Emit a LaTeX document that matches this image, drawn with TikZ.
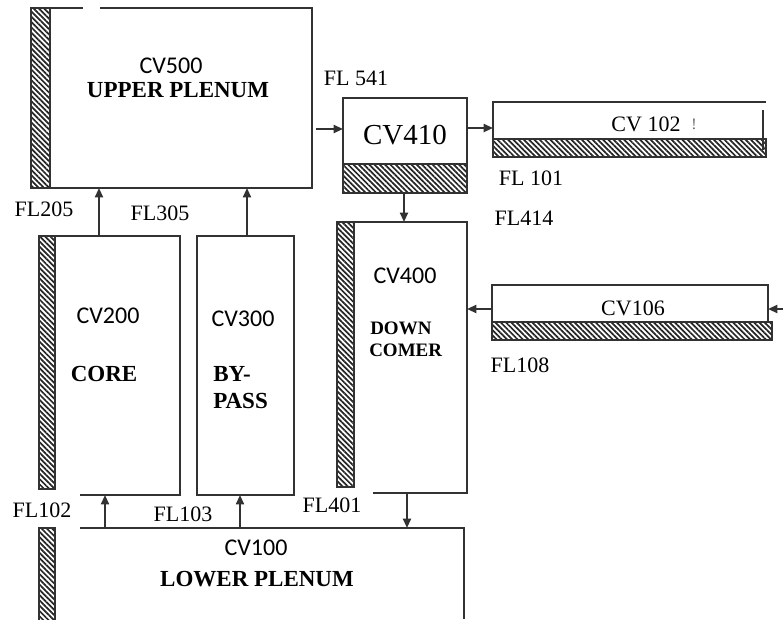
\documentclass[tikz,border=0pt]{standalone}
\usepackage{fontspec}
\setmainfont{Liberation Serif}
\newfontfamily\carl{Carlito}
\usetikzlibrary{arrows.meta,patterns.meta}
\definecolor{linec}{RGB}{50,50,50}
\begin{document}
\begin{tikzpicture}[x=0.75pt,y=-0.75pt,
  wall/.style={draw=linec, line width=1.4pt},
  hatch/.style={draw=linec, line width=1.2pt, pattern={Lines[angle=-45,distance=2.8pt,line width=1.3pt]}, pattern color=black!85},
  flow/.style={draw=linec, line width=1.4pt, -{Triangle[length=7pt,width=6pt]}},
  cvs/.style={font=\carl\fontsize{18}{20}\selectfont, inner sep=0pt},
  lab/.style={font=\fontsize{16.5}{18}\selectfont, inner sep=0pt},
  bold/.style={font=\bfseries\fontsize{17.25}{19}\selectfont, inner sep=0pt},
  boldsm/.style={font=\bfseries\fontsize{14.25}{16}\selectfont, inner sep=0pt},
]
\useasboundingbox (0,0) rectangle (783,619);

% upper plenum
\draw[wall] (50,8) rectangle (312,188);
\draw[hatch] (31,8) rectangle (50,188);
\draw[white, line width=2pt] (83,8) -- (100,8);

% core
\draw[wall] (80,495) -- (180,495) -- (180,236) -- (55,236);
\draw[hatch] (39,236) rectangle (55,489);

% bypass
\draw[wall] (197,236) rectangle (294,495);

% downcomer
\draw[wall] (373,493) -- (467,493) -- (467,222) -- (354,222);
\draw[hatch] (337,222) rectangle (354,487);

% lower plenum
\draw[wall] (80,528) -- (464,528) -- (464,619);
\draw[hatch] (39,528) rectangle (55,625);

% CV410
\draw[wall] (343,98) rectangle (467,164);
\draw[hatch] (343,164) rectangle (467,193);

% CV102
\draw[wall] (493,139) -- (493,102) -- (766,102);
\draw[hatch] (493,139) rectangle (766,157);
\draw[linec, line width=1pt] (763,110) -- (763,150);

% CV106
\draw[wall] (492,285) rectangle (768,322);
\draw[hatch] (492,322) rectangle (772,340);

% connector end points
\coordinate (coreT) at (99,236);
\coordinate (upB1) at (99,188);
\coordinate (bypT) at (247,236);
\coordinate (upB2) at (247,188);
\coordinate (upR) at (316,129);
\coordinate (c410L) at (343,129);
\coordinate (c410R) at (468,128);
\coordinate (c102L) at (493,128);
\coordinate (c410B) at (404,193);
\coordinate (dcT) at (404,222);
\coordinate (c106L) at (492,309);
\coordinate (dcR) at (467,309);
\coordinate (inR) at (783,309);
\coordinate (c106R) at (768,309);
\coordinate (lpT1) at (105,528);
\coordinate (coreB) at (105,495);
\coordinate (lpT2) at (240,528);
\coordinate (bypB) at (240,495);
\coordinate (dcB) at (407,493);
\coordinate (lpT3) at (407,528);

\draw[flow] (coreT) -- (upB1);
\draw[flow] (bypT) -- (upB2);
\draw[flow] (upR) -- (c410L);
\draw[flow] (c410R) -- (c102L);
\draw[flow] (c410B) -- (dcT);
\draw[flow] (c106L) -- (dcR);
\draw[flow] (inR) -- (c106R);
\draw[flow] (lpT1) -- (coreB);
\draw[flow] (lpT2) -- (bypB);
\draw[flow] (dcB) -- (lpT3);

% texts
\node[cvs] (t500) at (171,66) {CV500};
\node[bold] (tup) at (178,90) {UPPER PLENUM};
\node[lab] (f541) at (356,78) {FL 541};
\node[inner sep=0pt, font=\fontsize{21.75}{24}\selectfont] (t410) at (405,135) {CV410};
\node[lab] (t102) at (646,124) {CV 102};
\node[inner sep=0pt, font=\fontsize{12}{14}\selectfont, text=black!60] (t102b) at (694,124) {!};
\node[lab] (f101) at (531,178) {FL 101};
\node[lab] (f414) at (524,218) {FL414};
\node[lab] (f205) at (44,209) {FL205};
\node[lab] (f305) at (160,213) {FL305};
\node[cvs] (t200) at (108,316) {CV200};
\node[bold] (tcore) at (104,374) {CORE};
\node[cvs] (t300) at (243,319) {CV300};
\node[bold, anchor=west] (tby) at (213,374) {BY-};
\node[bold, anchor=west] (tpass) at (213,401) {PASS};
\node[cvs] (t400) at (405,276) {CV400};
\node[boldsm, anchor=west] (tdown) at (370,328) {DOWN};
\node[boldsm, anchor=west] (tcomer) at (369,350) {COMER};
\node[lab] (t106) at (633,308) {CV106};
\node[lab] (f108) at (520,365) {FL108};
\node[lab] (f102) at (42,510) {FL102};
\node[lab] (f103) at (183,514) {FL103};
\node[lab] (f401) at (332,505) {FL401};
\node[cvs] (t100) at (256,548) {CV100};
\node[bold] (tlp) at (257,579) {LOWER PLENUM};
\end{tikzpicture}
\end{document}
